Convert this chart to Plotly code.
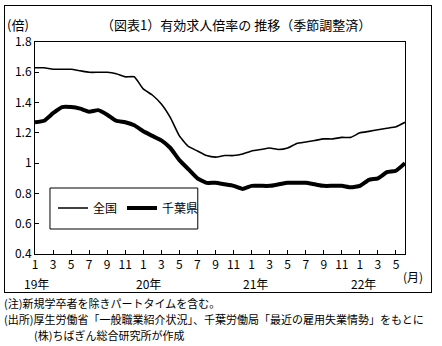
import plotly.graph_objects as go

# Monthly jobs-to-applicants ratio, Jan 2019 - Jun 2022 (seasonally adjusted)
months = [1, 2, 3, 4, 5, 6, 7, 8, 9, 10, 11, 12] * 3 + [1, 2, 3, 4, 5, 6]
national = [
    1.63, 1.63, 1.62, 1.62, 1.62, 1.61, 1.60, 1.60, 1.60, 1.59, 1.57, 1.57,
    1.49, 1.45, 1.39, 1.30, 1.18, 1.11, 1.08, 1.05, 1.04, 1.05, 1.05, 1.06,
    1.08, 1.09, 1.10, 1.09, 1.10, 1.13, 1.14, 1.15, 1.16, 1.16, 1.17, 1.17,
    1.20, 1.21, 1.22, 1.23, 1.24, 1.27,
]
chiba = [
    1.27, 1.28, 1.33, 1.37, 1.37, 1.36, 1.34, 1.35, 1.32, 1.28, 1.27, 1.25,
    1.21, 1.18, 1.15, 1.10, 1.02, 0.96, 0.90, 0.87, 0.87, 0.86, 0.85, 0.83,
    0.85, 0.85, 0.85, 0.86, 0.87, 0.87, 0.87, 0.86, 0.85, 0.85, 0.85, 0.84,
    0.85, 0.89, 0.90, 0.94, 0.95, 1.00,
]
year_labels = ["19年", "20年", "21年", "22年"]
year_pos = [0.2, 12.6, 24.4, 36.4]
y_ticks = [0.4, 0.6, 0.8, 1.0, 1.2, 1.4, 1.6, 1.8]
y_tick_text = ["0.4", "0.6", "0.8", "1", "1.2", "1.4", "1.6", "1.8"]

idx = list(range(len(months)))
x_ticks = idx[::2]
x_tick_text = [str(months[i]) for i in x_ticks]

FONT = "Noto Sans CJK JP"

fig = go.Figure()
fig.add_trace(go.Scatter(
    x=idx, y=national, name="全国", mode="lines",
    line=dict(color="black", width=1.6, shape="spline", smoothing=0.4),
))
fig.add_trace(go.Scatter(
    x=idx, y=chiba, name="千葉県", mode="lines",
    line=dict(color="black", width=4, shape="spline", smoothing=0.4),
))

W, H = 442, 346
L, R, T, B = 35, 405.5, 42, 254
pw, ph = R - L, B - T


def to_px(xp):
    return (xp - L) / pw


def to_py(yp):
    return (B - yp) / ph


# box around the legend
fig.add_shape(type="rect", xref="paper", yref="paper", layer="above",
              x0=to_px(50), x1=to_px(198), y0=to_py(229), y1=to_py(188),
              line=dict(color="black", width=1))

annotations = [
    # outer frame around the whole chart: an empty bordered box
    dict(text=" ", xref="paper", yref="paper", x=to_px(4), y=to_py(5),
         xanchor="left", yanchor="top", showarrow=False,
         width=426, height=286, borderpad=0, borderwidth=1, bordercolor="black",
         font=dict(size=2, color="black", family=FONT)),
    dict(text="（図表1）有効求人倍率の 推移（季節調整済）", xref="paper", yref="paper",
         x=to_px(236), y=to_py(25), xanchor="center", yanchor="middle",
         showarrow=False, font=dict(size=13, color="black", family=FONT)),
    dict(text="(倍)", xref="paper", yref="paper",
         x=to_px(5), y=to_py(25), xanchor="left", yanchor="middle",
         showarrow=False, font=dict(size=13, color="black", family=FONT)),
    dict(text="(月)", xref="paper", yref="paper",
         x=to_px(401), y=to_py(276), xanchor="left", yanchor="middle",
         showarrow=False, font=dict(size=12, color="black", family=FONT)),
    dict(text="(注)新規学卒者を除きパートタイムを含む。", xref="paper", yref="paper",
         x=to_px(2), y=to_py(303), xanchor="left", yanchor="middle",
         showarrow=False, font=dict(size=11, color="black", family=FONT)),
    dict(text="(出所)厚生労働省「一般職業紹介状況」、千葉労働局「最近の雇用失業情勢」をもとに",
         xref="paper", yref="paper",
         x=to_px(2), y=to_py(319), xanchor="left", yanchor="middle",
         showarrow=False, font=dict(size=11, color="black", family=FONT)),
    dict(text="(株)ちばぎん総合研究所が作成", xref="paper", yref="paper",
         x=to_px(32), y=to_py(335), xanchor="left", yanchor="middle",
         showarrow=False, font=dict(size=11, color="black", family=FONT)),
]
for lbl, pos in zip(year_labels, year_pos):
    annotations.append(dict(
        text=lbl, xref="x", yref="paper", x=pos, y=to_py(283),
        xanchor="center", yanchor="middle", showarrow=False,
        font=dict(size=12, color="black", family=FONT)))

fig.update_layout(
    width=W, height=H,
    margin=dict(l=L, r=W - R, t=T, b=H - B, autoexpand=False),
    paper_bgcolor="white", plot_bgcolor="white",
    font=dict(family=FONT, size=12, color="black"),
    showlegend=True,
    legend=dict(orientation="h", x=to_px(53), y=to_py(208), xanchor="left", yanchor="middle",
                bgcolor="rgba(0,0,0,0)", borderwidth=0,
                font=dict(size=12, family=FONT, color="black")),
    annotations=annotations,
)
fig.update_xaxes(
    range=[0, len(idx) - 1], tickvals=x_ticks, ticktext=x_tick_text, automargin=False,
    ticks="inside", ticklen=4, tickcolor="black", showgrid=False, zeroline=False,
    showline=True, linecolor="black", linewidth=1, mirror=True,
    tickfont=dict(size=12, family=FONT, color="black"),
)
fig.update_yaxes(
    range=[0.4, 1.8], tickvals=y_ticks, ticktext=y_tick_text, automargin=False,
    ticks="inside", ticklen=4, tickcolor="black", showgrid=False, zeroline=False,
    showline=True, linecolor="black", linewidth=1, mirror=True,
    tickfont=dict(size=12, family=FONT, color="black"),
)

fig.write_html("out.html")
